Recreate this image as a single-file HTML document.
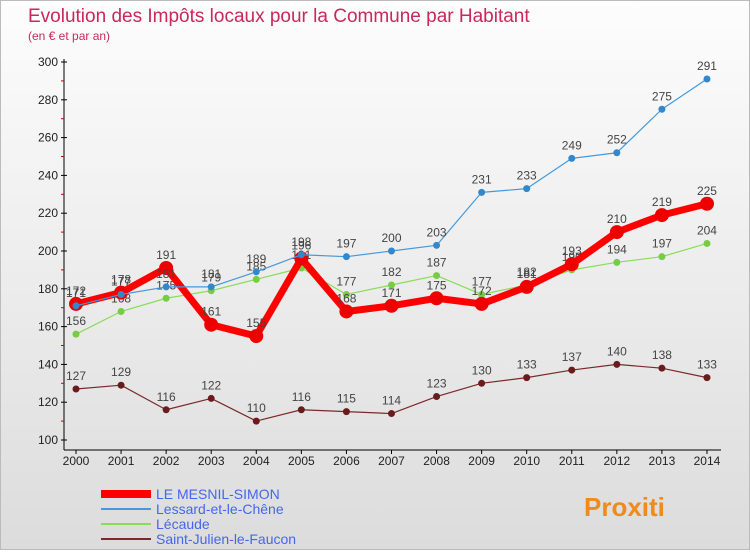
<!DOCTYPE html>
<html><head><meta charset="utf-8"><style>
body{margin:0;width:750px;height:550px;overflow:hidden;font-family:"Liberation Sans",sans-serif}
#c{position:absolute;left:0;top:0;width:748px;height:548px;border:1px solid #bbb;background:linear-gradient(#fdfdfd,#dcdcdc)}
</style></head><body>
<div id="c">
<svg width="750" height="550" id="s"></svg>
</div>
<script>
const years=[2000,2001,2002,2003,2004,2005,2006,2007,2008,2009,2010,2011,2012,2013,2014];
const mesnil=[172,178,191,161,155,196,168,171,175,172,181,193,210,219,225];
const lessard=[171,177,181,181,189,198,197,200,203,231,233,249,252,275,291];
const lecaude=[156,168,175,179,185,191,177,182,187,177,182,190,194,197,204];
const stjulien=[127,129,116,122,110,116,115,114,123,130,133,137,140,138,133];
const yTicks=[100,120,140,160,180,200,220,240,260,280,300];
const seriesNames=["LE MESNIL-SIMON","Lessard-et-le-Chêne","Lécaude","Saint-Julien-le-Faucon"];
const NS="http://www.w3.org/2000/svg",s=document.getElementById('s');
const X=i=>75+i*45.07, Y=v=>439-(v-100)*1.89;
function el(t,a,txt){const e=document.createElementNS(NS,t);for(const k in a)e.setAttribute(k,a[k]);if(txt!==undefined)e.textContent=txt;s.appendChild(e);return e;}
let e;
e=el('text',{x:27,y:21,fill:'#c8285a','font-size':19},'Evolution des Impôts locaux pour la Commune par Habitant');


e=el('text',{x:27,y:39,fill:'#c8285a','font-size':12},'(en € et par an)');


e=el('line',{x1:63,y1:58,x2:63,y2:449,stroke:'#000'});


e=el('line',{x1:63,y1:449,x2:720,y2:449,stroke:'#000'});


yTicks.forEach(v=>{
 e=el('text',{x:57,y:Y(v)+4,'text-anchor':'end','font-size':12,fill:'#222'},v);
 
 
 el('line',{x1:60,y1:Y(v),x2:66,y2:Y(v),stroke:'#000'});
 if(v<300){el('line',{x1:60,y1:Y(v+10),x2:63,y2:Y(v+10),stroke:'#c00'});}
});
years.forEach((y,i)=>{
 e=el('text',{x:X(i),y:464,'text-anchor':'middle','font-size':12,fill:'#222'},y);
 
 
 el('line',{x1:X(i),y1:449,x2:X(i),y2:453,stroke:'#000'});
});
function series(data,color,w,r,name,dot){
 const g=document.createElementNS(NS,'g');s.appendChild(g);
 
 
 const p=document.createElementNS(NS,'polyline');
 p.setAttribute('points',data.map((v,i)=>X(i)+','+Y(v)).join(' '));
 p.setAttribute('fill','none');p.setAttribute('stroke',color);p.setAttribute('stroke-width',w);p.setAttribute('stroke-linejoin','round');
 g.appendChild(p);
 data.forEach((v,i)=>{
  const c=document.createElementNS(NS,'circle');
  c.setAttribute('cx',X(i));c.setAttribute('cy',Y(v));c.setAttribute('r',r);c.setAttribute('fill',dot);
  
  
  g.appendChild(c);
  const t=document.createElementNS(NS,'text');
  t.setAttribute('x',X(i));t.setAttribute('y',Y(v)-9);t.setAttribute('text-anchor','middle');t.setAttribute('font-size',12);t.setAttribute('fill','#444');
  t.textContent=v;
  
  
  g.appendChild(t);
 });
}
series(stjulien,'#7a2a2a',1.2,3.5,'saint-julien-series','#6a1c1c');
series(lecaude,'#88dd55',1.2,3.5,'lecaude-series','#77cc44');
series(mesnil,'#ff0000',7,7,'mesnil-simon-series','#ee0000');
series(lessard,'#4499dd',1.2,3.5,'lessard-series','#3388cc');
const lc=['#ff0000','#4499dd','#88dd55','#7a2a2a'],lw=[8,2,2,2];
seriesNames.forEach((n,i)=>{
 const y=493+i*15;
 e=el('line',{x1:100,y1:y,x2:150,y2:y,stroke:lc[i],'stroke-width':lw[i]});
 
 
 e=el('text',{x:155,y:y+5,'font-size':14,fill:'#4466ee'},n);
 
 
});
e=el('text',{x:583,y:515,'font-size':26,'font-weight':'bold',fill:'#f08a1a'},'Proxiti');


</script>
</body></html>
